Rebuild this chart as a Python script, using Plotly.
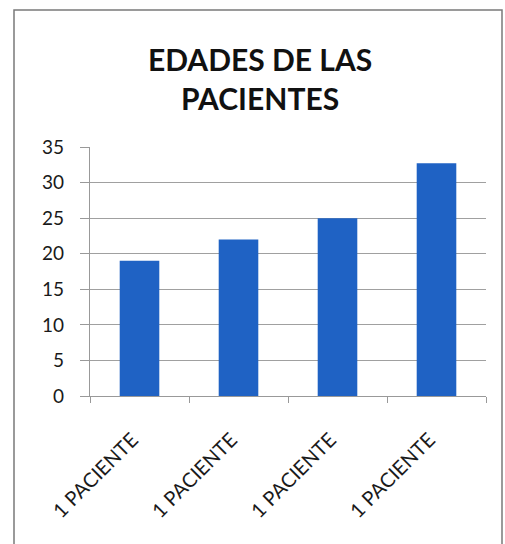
import plotly.graph_objects as go

categories = ["1 PACIENTE", "1 PACIENTE", "1 PACIENTE", "1 PACIENTE"]
ages = [19, 22, 25, 32.7]
y_ticks = [0, 5, 10, 15, 20, 25, 30, 35]
title_text = "EDADES DE LAS<br>PACIENTES"

positions = list(range(len(categories)))
boundaries = [p - 0.5 for p in positions] + [positions[-1] + 0.5]
# non-breaking padding nudges the rotated labels to sit like the reference
tick_labels = [c + "\u00a0\u00a0" for c in categories]

fig = go.Figure(
    go.Bar(
        x=positions,
        y=ages,
        marker=dict(color="#1F62C4", line=dict(width=0)),
        width=0.4,
    )
)

fig.update_layout(
    width=505,
    height=544,
    margin=dict(l=90, r=19, t=147, b=148),
    paper_bgcolor="white",
    plot_bgcolor="white",
    showlegend=False,
    font=dict(family="Lato, 'Open Sans', sans-serif", color="#1a1a1a"),
    title=dict(
        text=title_text,
        x=0.515,
        xanchor="center",
        y=1 - 71 / 544,
        yanchor="middle",
        yref="container",
        font=dict(family="Lato, sans-serif", size=30, color="#111111", weight="bold"),
    ),
    xaxis=dict(
        range=[-0.5, len(categories) - 0.5],
        tickmode="array",
        tickvals=positions,
        ticktext=tick_labels,
        tickangle=-45,
        ticks="",
        ticklabelstandoff=16,
        tickfont=dict(size=20, color="#1a1a1a"),
        showline=True,
        linecolor="#999999",
        linewidth=1.2,
        showgrid=False,
        zeroline=False,
        minor=dict(
            tickmode="array",
            tickvals=boundaries,
            ticks="outside",
            ticklen=6,
            tickcolor="#999999",
            tickwidth=1.2,
            showgrid=False,
        ),
    ),
    yaxis=dict(
        range=[0, 35],
        tickmode="array",
        tickvals=y_ticks,
        ticks="outside",
        ticklen=9,
        tickcolor="#999999",
        tickwidth=1.2,
        ticklabelstandoff=12,
        tickfont=dict(size=19, color="#1a1a1a"),
        showline=True,
        linecolor="#999999",
        linewidth=1.2,
        showgrid=True,
        gridcolor="#a0a0a0",
        gridwidth=1.2,
        zeroline=False,
    ),
)

# chart border (container frame)
fig.add_shape(
    type="rect",
    xref="paper",
    yref="paper",
    x0=(14 - 90) / 396,
    x1=(502 - 90) / 396,
    y0=(396 - 560) / 249,
    y1=(396 - 10) / 249,
    line=dict(color="#7a7a7a", width=1.5),
    fillcolor="rgba(0,0,0,0)",
    layer="below",
)

fig.write_html("out.html")
